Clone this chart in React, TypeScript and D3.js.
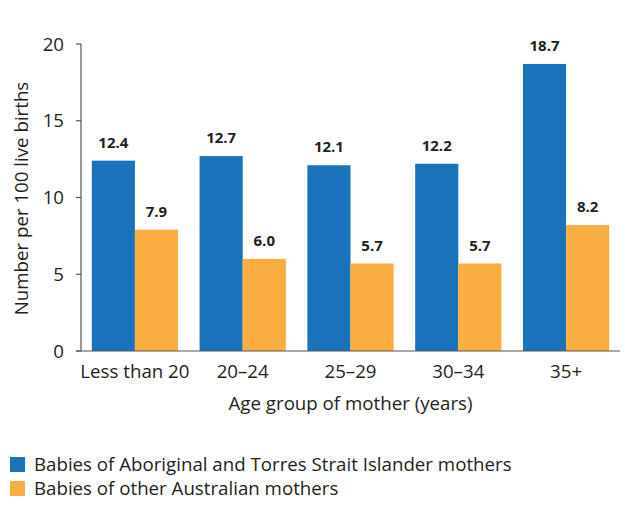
import React from "react";
import * as d3 from "d3";

const categories = ["Less than 20", "20–24", "25–29", "30–34", "35+"];
const indigenous = [12.4, 12.7, 12.1, 12.2, 18.7];
const other = [7.9, 6.0, 5.7, 5.7, 8.2];
const seriesNames = [
  "Babies of Aboriginal and Torres Strait Islander mothers",
  "Babies of other Australian mothers",
];
const yTicks = [0, 5, 10, 15, 20];

const colors = ["#1A72BA", "#F9AE3F"];
const FONT = "'Open Sans', sans-serif";
const TXT = "#231F20";

export default function App() {
  const W = 630, H = 506;
  const left = 81, right = 620, top = 44, bottom = 351;
  const x = d3.scaleBand<string>().domain(categories).range([left, right]).paddingInner(0.2).paddingOuter(0.1);
  const inner = d3.scaleBand<string>().domain(["a", "b"]).range([0, x.bandwidth()]);
  const y = d3.scaleLinear().domain([0, 20]).range([bottom, top]);
  const series = [indigenous, other];

  return (
    <svg width={W} height={H} style={{ position: "absolute", left: 0, top: 0, background: "#fff" }} fontFamily={FONT}>
      <rect width={W} height={H} fill="#fff" />
      {series.map((vals, si) =>
        categories.map((c, i) => (
          <rect key={`${si}-${i}`} x={(x(c) as number) + (inner(si === 0 ? "a" : "b") as number)} y={y(vals[i])}
            width={inner.bandwidth()} height={bottom - y(vals[i])} fill={colors[si]} />
        ))
      )}
      {series.map((vals, si) =>
        categories.map((c, i) => (
          <text key={`l${si}-${i}`} x={(x(c) as number) + (inner(si === 0 ? "a" : "b") as number) + inner.bandwidth() / 2}
            y={y(vals[i]) - 13} textAnchor="middle" fontSize={15} fontWeight={700} fill={TXT}>
            {vals[i].toFixed(1)}
          </text>
        ))
      )}
      <line x1={left} x2={left} y1={top} y2={bottom} stroke="#555" strokeWidth={1.2} />
      <line x1={left - 5} x2={right} y1={bottom} y2={bottom} stroke="#555" strokeWidth={1.2} />
      {yTicks.map((t) => (
        <g key={t}>
          <line x1={left - 5} x2={left} y1={y(t)} y2={y(t)} stroke="#555" strokeWidth={1.2} />
          <text x={64} y={y(t)} dy="0.36em" textAnchor="end" fontSize={18.7} fill={TXT}>{t}</text>
        </g>
      ))}
      {categories.map((c) => (
        <text key={c} x={(x(c) as number) + x.bandwidth() / 2} y={378} textAnchor="middle" fontSize={18.7} fill={TXT}>{c}</text>
      ))}
      <text x={(left + right) / 2} y={410} textAnchor="middle" fontSize={18.7} fill={TXT}>Age group of mother (years)</text>
      <text transform={`translate(27.5,198.5) rotate(-90)`} textAnchor="middle" fontSize={18.7} fill={TXT}>
        Number per 100 live births
      </text>
      {seriesNames.map((n, i) => (
        <g key={n}>
          <rect x={10} y={457 + i * 24} width={15} height={15} fill={colors[i]} />
          <text x={34} y={471 + i * 23.5} fontSize={18.7} fill={TXT}>{n}</text>
        </g>
      ))}
    </svg>
  );
}
